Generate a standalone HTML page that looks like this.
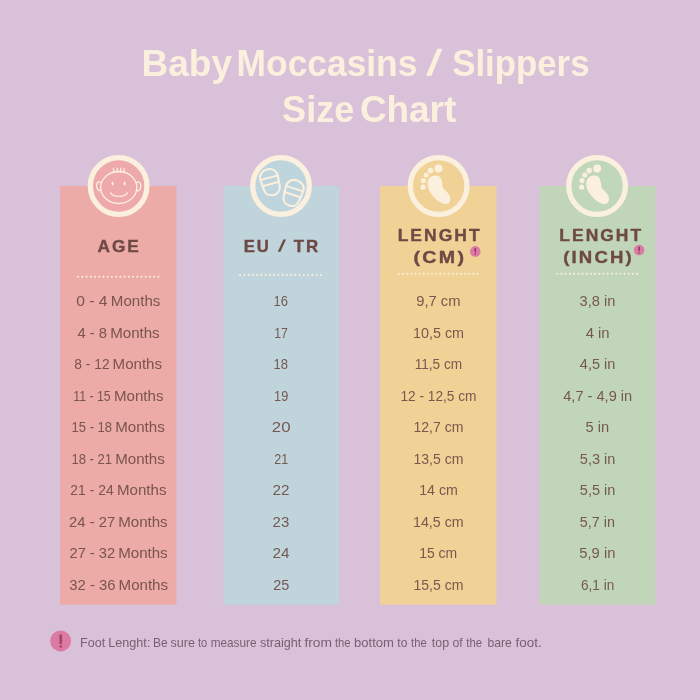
<!DOCTYPE html>
<html><head><meta charset="utf-8"><title>Size Chart</title>
<style>
html,body{margin:0;padding:0;background:#D9C1DA;}
body{width:700px;height:700px;overflow:hidden;}
svg{display:block;will-change:transform;font-family:"Liberation Sans",sans-serif;}
.t{font-weight:700;fill:#FBF0DD;font-size:36.4px;}
.h{font-weight:700;fill:#6E4A45;stroke:#6E4A45;stroke-width:.4px;font-size:17.3px;}
.r{fill:#6E4A45;fill-opacity:.9;font-size:14.2px;}
.f{fill:#6b4f5e;fill-opacity:.86;font-size:12.2px;}
.ic{fill:none;stroke:#FBF0DD;stroke-linecap:round;stroke-linejoin:round;}
</style></head><body>
<svg width="700" height="700" viewBox="0 0 700 700">
<rect width="700" height="700" fill="#D9C1DA"/>
<rect x="60.0" y="186" width="116.5" height="418.7" fill="#ECABA7"/>
<circle cx="118.65" cy="186" r="28.3" fill="#EEAAAB" stroke="#FBF0DD" stroke-width="5.3"/>
<line x1="78.10" y1="276.7" x2="158.45" y2="276.7" stroke="#FBF0DD" stroke-width="2.0" stroke-dasharray="0.01 4.216" stroke-linecap="round"/>
<rect x="223.5" y="186" width="115.7" height="418.7" fill="#BFD5DB"/>
<circle cx="281.0" cy="186" r="28.3" fill="#BED5DD" stroke="#FBF0DD" stroke-width="5.3"/>
<line x1="240.10" y1="274.9" x2="320.95" y2="274.9" stroke="#FBF0DD" stroke-width="2.0" stroke-dasharray="0.01 4.243" stroke-linecap="round"/>
<rect x="380.0" y="186" width="116.5" height="418.7" fill="#F0D297"/>
<circle cx="438.65" cy="186" r="28.3" fill="#F0D296" stroke="#FBF0DD" stroke-width="5.3"/>
<line x1="398.90" y1="273.7" x2="477.65" y2="273.7" stroke="#FBF0DD" stroke-width="2.0" stroke-dasharray="0.01 4.132" stroke-linecap="round"/>
<rect x="539.5" y="186" width="116.0" height="418.7" fill="#C1D6B9"/>
<circle cx="597.1" cy="186" r="28.3" fill="#C0D7BA" stroke="#FBF0DD" stroke-width="5.3"/>
<line x1="557.30" y1="273.7" x2="637.15" y2="273.7" stroke="#FBF0DD" stroke-width="2.0" stroke-dasharray="0.01 4.190" stroke-linecap="round"/>
<g class="ic" stroke-width="1.3">
<ellipse cx="118.75" cy="187.5" rx="18.1" ry="16"/>
<path d="M100.9,182.2C97.6,180.9 96.4,183.6 96.6,186.3C96.8,189.2 98.5,191.3 101.3,190.4"/>
<path d="M136.6,182.4C139.9,181.1 141.0,183.8 140.8,186.5C140.6,189.4 138.9,191.5 136.1,190.6"/>
<path d="M110.6,192.9C113.5,197.6 124.3,197.6 127.4,192.9"/>
<path d="M114.4,172.5L113.3,168.3M117.5,172.2L117.0,168.1M120.5,172.2L120.7,168.1M123.5,172.5L124.3,168.4"/>
</g>
<ellipse cx="112.6" cy="183.6" rx="1.0" ry="2.0" fill="#FBF0DD"/><ellipse cx="124.6" cy="183.6" rx="1.0" ry="2.0" fill="#FBF0DD"/>
<g class="ic" stroke-width="2.1" transform="translate(270.3,182.2) rotate(-15)">
<path d="M-9,-4.8C-9,-16 9,-16 9,-4.8L8.1,6C7.2,15.6 -7.2,15.6 -8.1,6Z"/>
<path d="M-8.9,-4.6L8.9,-4.6M-8.7,1.8L8.7,1.8"/></g>
<g class="ic" stroke-width="2.1" transform="translate(293.2,193.0) rotate(18)">
<path d="M-9,-4.8C-9,-16 9,-16 9,-4.8L8.1,6C7.2,15.6 -7.2,15.6 -8.1,6Z"/>
<path d="M-8.9,-4.6L8.9,-4.6M-8.7,1.8L8.7,1.8"/></g>
<g fill="#FBF0DD"><circle cx="438.50" cy="168.5" r="4.0"/><circle cx="430.50" cy="170.6" r="2.8"/><circle cx="426.20" cy="175.0" r="2.5"/><circle cx="423.30" cy="180.6" r="2.6"/><circle cx="423.00" cy="187.2" r="2.6"/><path d="M435.00,175.40C436.72,175.37 439.10,176.03 440.30,177.30C441.50,178.57 441.72,181.22 442.20,183.00C442.68,184.78 442.27,186.33 443.20,188.00C444.13,189.67 446.62,191.33 447.80,193.00C448.98,194.67 450.07,196.40 450.30,198.00C450.53,199.60 450.03,201.58 449.20,202.60C448.37,203.62 447.00,204.27 445.30,204.10C443.60,203.93 441.05,202.95 439.00,201.60C436.95,200.25 434.67,197.93 433.00,196.00C431.33,194.07 429.90,192.17 429.00,190.00C428.10,187.83 427.43,185.08 427.60,183.00C427.77,180.92 428.77,178.77 430.00,177.50C431.23,176.23 433.28,175.43 435.00,175.40Z"/></g>
<g fill="#FBF0DD"><circle cx="597.15" cy="168.5" r="4.0"/><circle cx="589.15" cy="170.6" r="2.8"/><circle cx="584.85" cy="175.0" r="2.5"/><circle cx="581.95" cy="180.6" r="2.6"/><circle cx="581.65" cy="187.2" r="2.6"/><path d="M593.65,175.40C595.37,175.37 597.75,176.03 598.95,177.30C600.15,178.57 600.37,181.22 600.85,183.00C601.33,184.78 600.92,186.33 601.85,188.00C602.78,189.67 605.27,191.33 606.45,193.00C607.63,194.67 608.72,196.40 608.95,198.00C609.18,199.60 608.68,201.58 607.85,202.60C607.02,203.62 605.65,204.27 603.95,204.10C602.25,203.93 599.70,202.95 597.65,201.60C595.60,200.25 593.32,197.93 591.65,196.00C589.98,194.07 588.55,192.17 587.65,190.00C586.75,187.83 586.08,185.08 586.25,183.00C586.42,180.92 587.42,178.77 588.65,177.50C589.88,176.23 591.93,175.43 593.65,175.40Z"/></g>
<text class="t" transform="translate(141.56,75.8) scale(1.0168,1)">Baby</text>
<text class="t" transform="translate(236.57,75.8) scale(0.9720,1)">Moccasins</text>
<text class="t" transform="translate(452.24,75.8) scale(0.9560,1)">Slippers</text>
<text class="t" transform="translate(282.11,121.5) scale(0.9901,1)">Size</text>
<text class="t" transform="translate(359.88,121.5) scale(1.0140,1)">Chart</text>
<text class="h" letter-spacing="2" transform="translate(97.50,251.8) scale(0.9963,1)">AGE</text>
<text class="h" letter-spacing="2" transform="translate(243.79,251.7) scale(0.9642,1)">EU</text>
<text class="h" letter-spacing="2" transform="translate(293.66,251.7) scale(0.9773,1)">TR</text>
<text class="h" letter-spacing="2" transform="translate(397.64,240.5) scale(1.0113,1)">LENGHT</text>
<text class="h" letter-spacing="2" transform="translate(413.45,262.8) scale(1.1368,1)">(CM)</text>
<text class="h" letter-spacing="2" transform="translate(559.34,240.5) scale(1.0088,1)">LENGHT</text>
<text class="h" letter-spacing="2" transform="translate(563.19,262.6) scale(1.0747,1)">(INCH)</text>
<text class="r" transform="translate(76.25,306.0) scale(1.1018,1)">0 - 4</text>
<text class="r" transform="translate(110.87,306.0) scale(1.0637,1)">Months</text>
<text class="r" transform="translate(77.44,337.5) scale(1.0436,1)">4 - 8</text>
<text class="r" transform="translate(110.17,337.5) scale(1.0637,1)">Months</text>
<text class="r" transform="translate(74.37,369.1) scale(0.9698,1)">8 - 12</text>
<text class="r" transform="translate(112.57,369.1) scale(1.0637,1)">Months</text>
<text class="r" transform="translate(73.23,400.6) scale(0.8699,1)">11 - 15</text>
<text class="r" transform="translate(113.97,400.6) scale(1.0637,1)">Months</text>
<text class="r" transform="translate(71.58,432.0) scale(0.9176,1)">15 - 18</text>
<text class="r" transform="translate(115.27,432.0) scale(1.0637,1)">Months</text>
<text class="r" transform="translate(71.38,463.5) scale(0.9224,1)">18 - 21</text>
<text class="r" transform="translate(115.27,463.5) scale(1.0637,1)">Months</text>
<text class="r" transform="translate(70.37,494.9) scale(0.9791,1)">21 - 24</text>
<text class="r" transform="translate(116.97,494.9) scale(1.0637,1)">Months</text>
<text class="r" transform="translate(69.12,526.7) scale(1.0409,1)">24 - 27</text>
<text class="r" transform="translate(118.17,526.7) scale(1.0637,1)">Months</text>
<text class="r" transform="translate(69.53,558.2) scale(1.0316,1)">27 - 32</text>
<text class="r" transform="translate(118.17,558.2) scale(1.0637,1)">Months</text>
<text class="r" transform="translate(69.28,589.6) scale(1.0465,1)">32 - 36</text>
<text class="r" transform="translate(118.57,589.6) scale(1.0637,1)">Months</text>
<text class="r" transform="translate(273.58,306.0) scale(0.9193,1)">16</text>
<text class="r" transform="translate(274.14,337.5) scale(0.8643,1)">17</text>
<text class="r" transform="translate(273.58,369.1) scale(0.9193,1)">18</text>
<text class="r" transform="translate(274.10,400.6) scale(0.9000,1)">19</text>
<text class="r" transform="translate(271.81,432.0) scale(1.1862,1)">20</text>
<text class="r" transform="translate(274.34,463.5) scale(0.8842,1)">21</text>
<text class="r" transform="translate(272.59,494.9) scale(1.0737,1)">22</text>
<text class="r" transform="translate(272.61,526.7) scale(1.0552,1)">23</text>
<text class="r" transform="translate(272.39,558.2) scale(1.0828,1)">24</text>
<text class="r" transform="translate(273.13,589.6) scale(1.0207,1)">25</text>
<text class="r" transform="translate(416.22,306.0) scale(1.0415,1)">9,7 cm</text>
<text class="r" transform="translate(412.99,337.5) scale(1.0124,1)">10,5 cm</text>
<text class="r" transform="translate(414.64,369.1) scale(0.9621,1)">11,5 cm</text>
<text class="r" transform="translate(400.44,400.6) scale(0.9649,1)">12 - 12,5 cm</text>
<text class="r" transform="translate(413.51,432.0) scale(0.9897,1)">12,7 cm</text>
<text class="r" transform="translate(413.51,463.5) scale(0.9897,1)">13,5 cm</text>
<text class="r" transform="translate(419.20,494.9) scale(1.0014,1)">14 cm</text>
<text class="r" transform="translate(413.00,526.7) scale(1.0041,1)">14,5 cm</text>
<text class="r" transform="translate(419.22,558.2) scale(0.9823,1)">15 cm</text>
<text class="r" transform="translate(413.51,589.6) scale(0.9897,1)">15,5 cm</text>
<text class="r" transform="translate(579.58,306.0) scale(1.0316,1)">3,8 in</text>
<text class="r" transform="translate(585.64,337.5) scale(1.0483,1)">4 in</text>
<text class="r" transform="translate(579.84,369.1) scale(1.0239,1)">4,5 in</text>
<text class="r" transform="translate(563.24,400.6) scale(1.0281,1)">4,7 - 4,9 in</text>
<text class="r" transform="translate(585.52,432.0) scale(1.0353,1)">5 in</text>
<text class="r" transform="translate(579.83,463.5) scale(1.0242,1)">5,3 in</text>
<text class="r" transform="translate(579.83,494.9) scale(1.0242,1)">5,5 in</text>
<text class="r" transform="translate(579.84,526.7) scale(1.0121,1)">5,7 in</text>
<text class="r" transform="translate(579.32,558.2) scale(1.0394,1)">5,9 in</text>
<text class="r" transform="translate(580.98,589.6) scale(0.9576,1)">6,1 in</text>
<text class="f" transform="translate(80.07,646.9) scale(1.0280,1)">Foot</text>
<text class="f" transform="translate(108.26,646.9) scale(1.0364,1)">Lenght:</text>
<text class="f" transform="translate(153.02,646.9) scale(0.9811,1)">Be</text>
<text class="f" transform="translate(170.49,646.9) scale(1.0286,1)">sure</text>
<text class="f" transform="translate(197.97,646.9) scale(0.9158,1)">to</text>
<text class="f" transform="translate(210.67,646.9) scale(0.9674,1)">measure</text>
<text class="f" transform="translate(259.88,646.9) scale(1.0369,1)">straight</text>
<text class="f" transform="translate(304.42,646.9) scale(1.1312,1)">from</text>
<text class="f" transform="translate(334.97,646.9) scale(0.9231,1)">the</text>
<text class="f" transform="translate(354.00,646.9) scale(1.0713,1)">bottom</text>
<text class="f" transform="translate(397.35,646.9) scale(0.9895,1)">to</text>
<text class="f" transform="translate(411.07,646.9) scale(0.9231,1)">the</text>
<text class="f" transform="translate(431.74,646.9) scale(1.0215,1)">top</text>
<text class="f" transform="translate(452.39,646.9) scale(1.0154,1)">of</text>
<text class="f" transform="translate(466.27,646.9) scale(0.9292,1)">the</text>
<text class="f" transform="translate(487.45,646.9) scale(1.0000,1)">bare</text>
<text class="f" transform="translate(515.52,646.9) scale(1.1011,1)">foot.</text>
<polygon points="437.3,48.7 442.4,48.7 431.4,75.8 426.0,75.8" fill="#FBF0DD"/>
<polygon points="283.4,239.4 286.0,239.4 280.4,251.7 277.8,251.7" fill="#6E4A45"/>
<circle cx="475.3" cy="251.4" r="5.3" fill="#DB7BA3"/><rect x="474.55" y="248.0" width="1.5" height="4.4" rx=".6" fill="#8C3A5E"/><rect x="474.55" y="253.3" width="1.5" height="1.5" rx=".6" fill="#8C3A5E"/>
<circle cx="639.1" cy="250.0" r="5.3" fill="#DB7BA3"/><rect x="638.35" y="246.6" width="1.5" height="4.4" rx=".6" fill="#8C3A5E"/><rect x="638.35" y="251.9" width="1.5" height="1.5" rx=".6" fill="#8C3A5E"/>
<circle cx="60.6" cy="640.9" r="10.5" fill="#DB7BA3"/><rect x="59.4" y="634.3" width="2.7" height="10" rx="1.2" fill="#A8456F"/><rect x="59.4" y="645.2" width="2.7" height="2.6" rx="1.2" fill="#A8456F"/>
</svg></body></html>
